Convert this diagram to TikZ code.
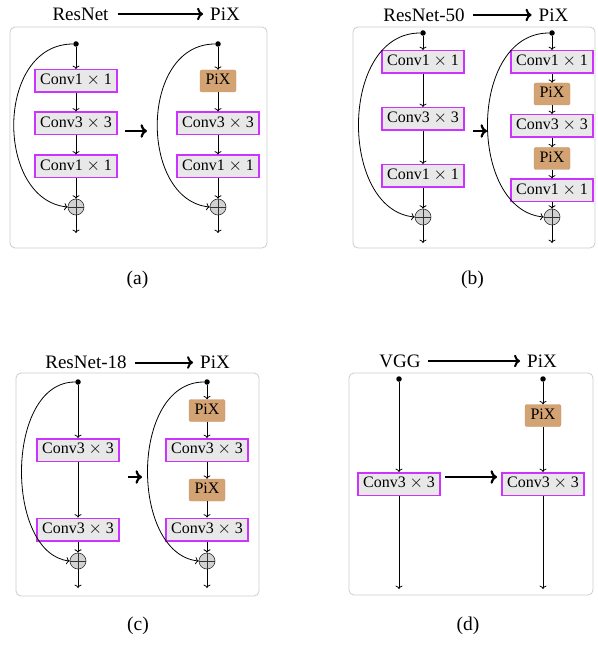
\documentclass[tikz,border=0pt]{standalone}
\usepackage{fontspec}
\setmainfont{Liberation Serif}
\usetikzlibrary{arrows.meta}
\definecolor{convborder}{RGB}{204,51,255}
\definecolor{convfill}{RGB}{232,232,232}
\definecolor{pixfill}{RGB}{212,163,115}
\definecolor{framec}{RGB}{204,204,204}
\definecolor{plusfill}{RGB}{210,210,210}
\newcommand{\cx}[1]{Conv#1${}\times{}$#1}
\begin{document}
\begin{tikzpicture}[x=1pt,y=-1pt,
 conv/.style={draw=convborder, fill=convfill, line width=1.5pt, minimum height=22.5pt, text height=11pt, text depth=3.5pt, inner xsep=5pt, inner ysep=0pt, font=\fontsize{16}{18}\selectfont},
 pix/.style={draw=pixfill!92!black, fill=pixfill, rounded corners=2pt, line width=0.4pt, minimum height=22pt, minimum width=36pt, text height=11pt, text depth=3.5pt, inner xsep=4pt, inner ysep=0pt, font=\fontsize{16}{18}\selectfont},
 sum/.style={circle, draw=black!80, fill=plusfill, line width=0.6pt, minimum size=16pt, inner sep=0pt,
   path picture={\draw[black!80, line width=0.6pt] ([xshift=-8pt]path picture bounding box.center) -- ([xshift=8pt]path picture bounding box.center) ([yshift=-8pt]path picture bounding box.center) -- ([yshift=8pt]path picture bounding box.center);}},
 dotn/.style={circle, fill=black, inner sep=0pt, minimum size=5.5pt},
 flow/.style={->, line width=0.8pt},
 frame/.style={draw=framec, line width=0.8pt, rounded corners=5pt},
 title/.style={font=\fontsize{19}{21}\selectfont, inner sep=0pt},
 bigarrow/.style={->, line width=2pt},
 midarrow/.style={->, line width=2.2pt},
 caption/.style={font=\fontsize{19.5}{21}\selectfont}
]
\useasboundingbox (0,0) rectangle (597,660);

% ---------------- (a)
\draw[frame] (10,27) rectangle (267,248);
\node[title] (ta1) at (80.5,14) {ResNet};
\node[title] (ta2) at (225,14) {PiX};
\draw[bigarrow] ([xshift=9pt]ta1.east) -- ([xshift=-7pt]ta2.west);

\node[dotn] (ad1) at (76,44) {};
\node[conv] (ac1) at (76,81) {\cx{1}};
\node[conv] (ac2) at (76,123.5) {\cx{3}};
\node[conv] (ac3) at (76,166.5) {\cx{1}};
\node[sum] (as1) at (76,207) {};
\coordinate (ao1) at (76,233);
\draw[flow] (ad1) -- (ac1);
\draw[flow] (ac1) -- (ac2);
\draw[flow] (ac2) -- (ac3);
\draw[flow] (ac3) -- (as1);
\draw[flow] (as1) -- (ao1);
\draw[flow] (ad1) .. controls (-5,44) and (-5,200) .. (as1.west);

\coordinate (am1) at (125,131);
\coordinate (am2) at (147,131);
\draw[midarrow] (am1) -- (am2);

\node[dotn] (ad2) at (218,44) {};
\node[pix] (ap1) at (218,81) {PiX};
\node[conv] (ac4) at (218,123.5) {\cx{3}};
\node[conv] (ac5) at (218,166.5) {\cx{1}};
\node[sum] (as2) at (218,207) {};
\coordinate (ao2) at (218,233);
\draw[flow] (ad2) -- (ap1);
\draw[flow] (ap1) -- (ac4);
\draw[flow] (ac4) -- (ac5);
\draw[flow] (ac5) -- (as2);
\draw[flow] (as2) -- (ao2);
\draw[flow] (ad2) .. controls (139,44) and (139,200) .. (as2.west);

\node[caption] (capa) at (137.5,280) {(a)};

% ---------------- (b)
\draw[frame] (353,27) rectangle (595,248);
\node[title] (tb1) at (424,15) {ResNet-50};
\node[title] (tb2) at (553.5,15) {PiX};
\draw[bigarrow] ([xshift=8pt]tb1.east) -- ([xshift=-7pt]tb2.west);

\node[dotn] (bd1) at (423,33) {};
\node[conv] (bc1) at (423,62) {\cx{1}};
\node[conv] (bc2) at (423,119) {\cx{3}};
\node[conv] (bc3) at (423,176) {\cx{1}};
\node[sum] (bs1) at (423,217) {};
\coordinate (bo1) at (423,243);
\draw[flow] (bd1) -- (bc1);
\draw[flow] (bc1) -- (bc2);
\draw[flow] (bc2) -- (bc3);
\draw[flow] (bc3) -- (bs1);
\draw[flow] (bs1) -- (bo1);
\draw[flow] (bd1) .. controls (339,33) and (339,210) .. (bs1.west);

\coordinate (bm1) at (473,131);
\coordinate (bm2) at (487,131);
\draw[midarrow] (bm1) -- (bm2);

\node[dotn] (bd2) at (552,33) {};
\node[conv] (bc4) at (552,62) {\cx{1}};
\node[pix] (bp1) at (552,94) {PiX};
\node[conv] (bc5) at (552,126) {\cx{3}};
\node[pix] (bp2) at (552,158.5) {PiX};
\node[conv] (bc6) at (552,190.5) {\cx{1}};
\node[sum] (bs2) at (552,217) {};
\coordinate (bo2) at (552,243);
\draw[flow] (bd2) -- (bc4);
\draw[flow] (bc4) -- (bp1);
\draw[flow] (bp1) -- (bc5);
\draw[flow] (bc5) -- (bp2);
\draw[flow] (bp2) -- (bc6);
\draw[flow] (bc6) -- (bs2);
\draw[flow] (bs2) -- (bo2);
\draw[flow] (bd2) .. controls (468,33) and (468,210) .. (bs2.west);

\node[caption] (capb) at (472.5,280) {(b)};

% ---------------- (c)
\draw[frame] (16,373) rectangle (259,596);
\node[title] (tc1) at (86,362.5) {ResNet-18};
\node[title] (tc2) at (215,362.5) {PiX};
\draw[bigarrow] ([xshift=8pt]tc1.east) -- ([xshift=-7pt]tc2.west);

\node[dotn] (cd1) at (78,382) {};
\node[conv] (cc1) at (78,450) {\cx{3}};
\node[conv] (cc2) at (78,529.5) {\cx{3}};
\node[sum] (cs1) at (78,561) {};
\coordinate (co1) at (78,588);
\draw[flow] (cd1) -- (cc1);
\draw[flow] (cc1) -- (cc2);
\draw[flow] (cc2) -- (cs1);
\draw[flow] (cs1) -- (co1);
\draw[flow] (cd1) .. controls (4.7,382) and (4.7,554) .. (cs1.west);

\coordinate (cm1) at (128,477);
\coordinate (cm2) at (142,477);
\draw[midarrow] (cm1) -- (cm2);

\node[dotn] (cd2) at (207,382) {};
\node[pix] (cp1) at (207,410.5) {PiX};
\node[conv] (cc3) at (207,450) {\cx{3}};
\node[pix] (cp2) at (207,490) {PiX};
\node[conv] (cc4) at (207,529.5) {\cx{3}};
\node[sum] (cs2) at (207,561) {};
\coordinate (co2) at (207,588);
\draw[flow] (cd2) -- (cp1);
\draw[flow] (cp1) -- (cc3);
\draw[flow] (cc3) -- (cp2);
\draw[flow] (cp2) -- (cc4);
\draw[flow] (cc4) -- (cs2);
\draw[flow] (cs2) -- (co2);
\draw[flow] (cd2) .. controls (129.7,382) and (129.7,554) .. (cs2.west);

\node[caption] (capc) at (138,625.5) {(c)};

% ---------------- (d)
\draw[frame] (349,373) rectangle (593,595);
\node[title] (td1) at (400,361) {VGG};
\node[title] (td2) at (542,361) {PiX};
\draw[bigarrow] ([xshift=7pt]td1.east) -- ([xshift=-7pt]td2.west);

\node[dotn] (dd1) at (399,379) {};
\node[conv] (dc1) at (399,484) {\cx{3}};
\coordinate (do1) at (399,589);
\draw[flow] (dd1) -- (dc1);
\draw[flow] (dc1) -- (do1);

\node[dotn] (dd2) at (543,379) {};
\node[pix] (dp1) at (543,415.5) {PiX};
\node[conv] (dc2) at (543,484) {\cx{3}};
\coordinate (do2) at (543,589);
\draw[flow] (dd2) -- (dp1);
\draw[flow] (dp1) -- (dc2);
\draw[flow] (dc2) -- (do2);

\coordinate (dm1) at (445,477);
\coordinate (dm2) at (497,477);
\draw[midarrow] (dm1) -- (dm2);

\node[caption] (capd) at (468,625.5) {(d)};
\end{tikzpicture}
\end{document}
